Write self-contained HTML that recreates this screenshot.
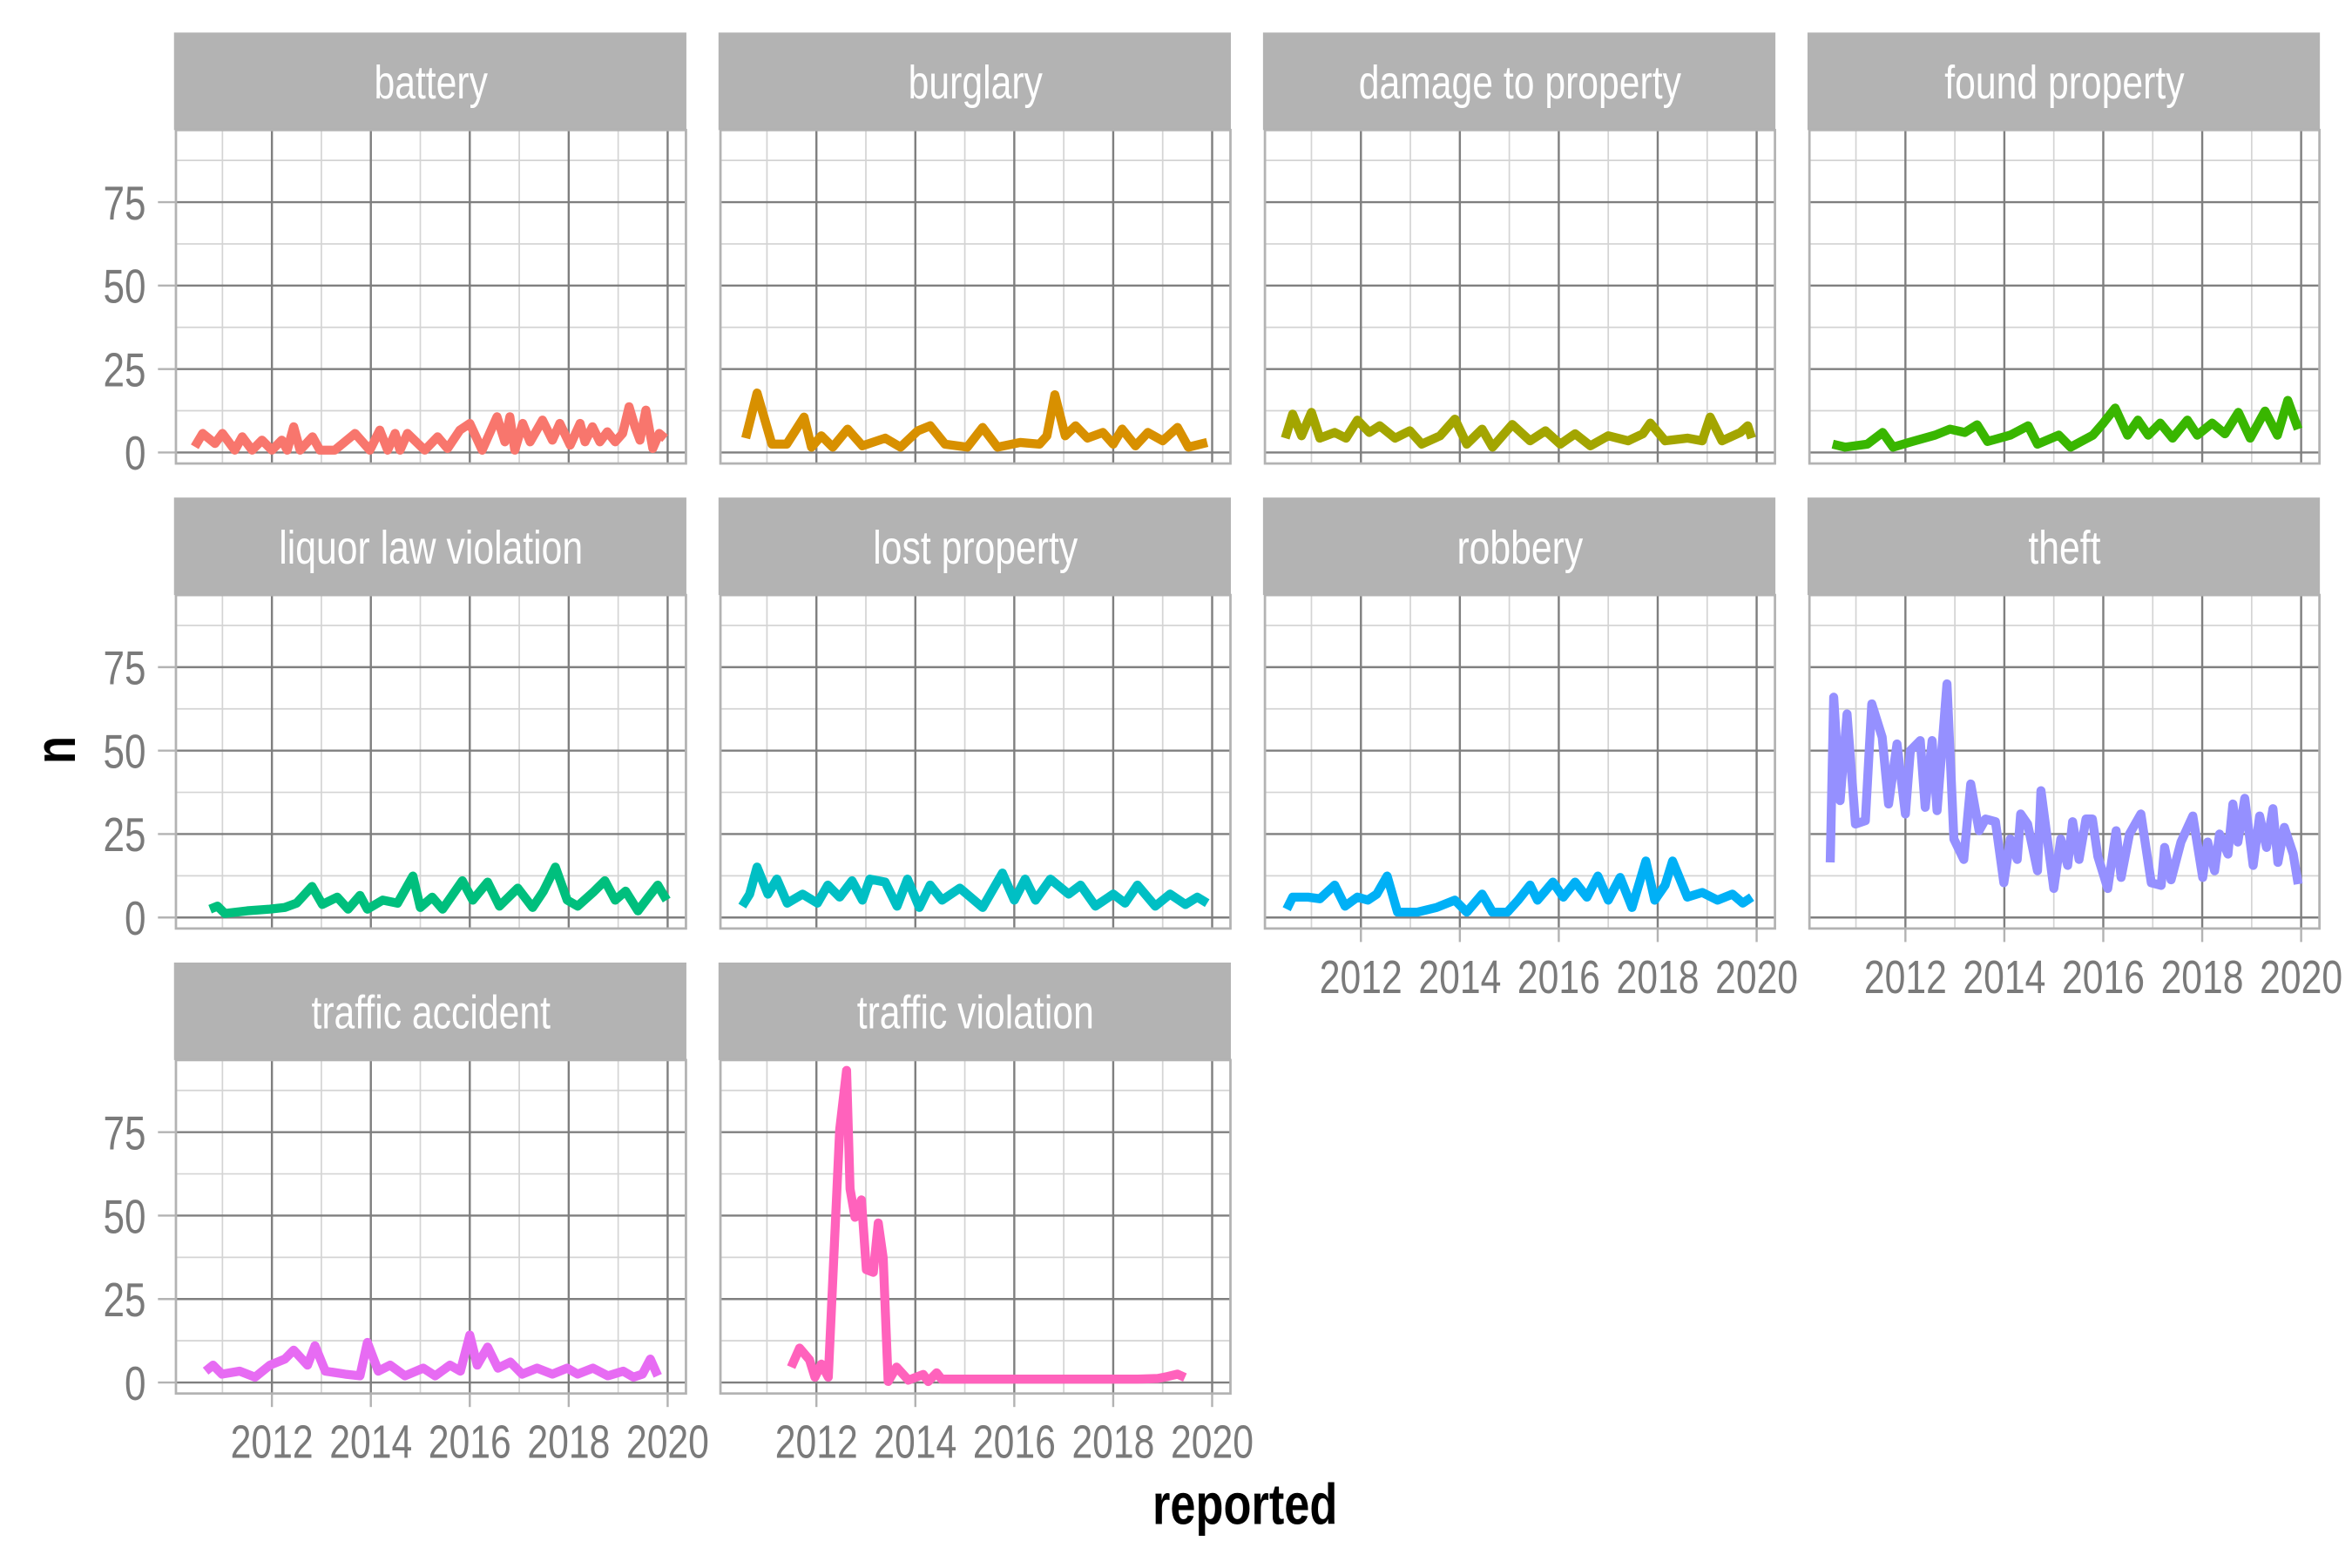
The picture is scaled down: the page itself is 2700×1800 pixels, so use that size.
<!DOCTYPE html>
<html><head><meta charset="utf-8"><style>html,body{margin:0;padding:0;background:#fff}svg{display:block}</style></head>
<body>
<svg id="chart" width="2700" height="1800" viewBox="0 0 1568 1045.33" xmlns="http://www.w3.org/2000/svg" font-family="'Liberation Sans', sans-serif"></svg>
<script>
const categories = ["battery","burglary","damage to property","found property","liquor law violation","lost property","robbery","theft","traffic accident","traffic violation"];
const seriesColors = ["#F8766D","#D89000","#A3A500","#39B600","#00BF7D","#00BFC4","#00B0F6","#9590FF","#E76BF3","#FF62BC"];
const yTicks = [0,25,50,75];
const xTickLabels = [2012,2014,2016,2018,2020];
const batteryX = [2010.44,2010.6,2010.85,2011.0,2011.25,2011.4,2011.6,2011.8,2012.0,2012.2,2012.31,2012.44,2012.57,2012.82,2012.97,2013.27,2013.68,2013.98,2014.18,2014.34,2014.49,2014.59,2014.74,2015.09,2015.35,2015.55,2015.8,2016.0,2016.25,2016.55,2016.71,2016.81,2016.91,2017.07,2017.22,2017.47,2017.67,2017.82,2018.03,2018.23,2018.33,2018.48,2018.63,2018.78,2018.94,2019.09,2019.22,2019.34,2019.44,2019.56,2019.7,2019.83,2019.95];
const batteryN = [1.7,5.7,2.7,5.7,0.7,4.7,0.7,3.7,0.7,3.7,0.7,7.7,0.7,4.7,0.7,0.7,5.7,0.7,6.7,0.7,5.7,0.7,5.7,0.7,4.7,1.2,6.7,8.7,0.7,10.7,3.2,10.7,0.7,8.7,3.2,9.7,3.7,8.7,2.2,8.7,3.2,7.7,3.2,6.2,3.2,5.7,13.7,7.7,3.7,12.7,1.2,5.7,4.2];
const burglaryX = [2010.57,2010.8,2011.1,2011.4,2011.75,2011.9,2012.1,2012.33,2012.63,2012.93,2013.39,2013.7,2014.05,2014.3,2014.6,2015.05,2015.36,2015.66,2016.12,2016.51,2016.66,2016.82,2017.03,2017.24,2017.48,2017.79,2018.0,2018.18,2018.45,2018.7,2019.0,2019.3,2019.52,2019.9];
const burglaryN = [4.3,17.8,2.5,2.5,10.6,1.6,5,1.6,7,2,4.3,1.6,6.5,8,2.5,1.6,7.5,1.6,3,2.5,5,17.3,5,8,4.3,6,2.5,7,2,6,3.5,7.5,1.6,3];
const damageX = [2010.47,2010.62,2010.8,2011.0,2011.17,2011.47,2011.7,2011.93,2012.17,2012.38,2012.69,2012.99,2013.23,2013.6,2013.9,2014.14,2014.45,2014.66,2015.06,2015.42,2015.73,2016.03,2016.33,2016.64,2017.0,2017.4,2017.7,2017.85,2018.15,2018.6,2018.9,2019.06,2019.3,2019.67,2019.82,2019.9];
const damageN = [4.3,11.5,5,12,4.3,6,4.3,9.7,6,8,4.3,6.5,2.5,5,10,2.5,7,1.6,8.4,3.5,6.5,2.5,5.6,2,5,3.5,5.6,8.8,3.5,4.3,3.5,10.6,3.5,6,8,4.3];
const foundX = [2010.53,2010.78,2011.23,2011.54,2011.75,2012.14,2012.6,2012.9,2013.2,2013.45,2013.66,2014.12,2014.48,2014.67,2015.1,2015.34,2015.79,2016.0,2016.24,2016.49,2016.7,2016.91,2017.15,2017.4,2017.7,2017.9,2018.2,2018.46,2018.73,2018.97,2019.27,2019.52,2019.73,2019.94];
const foundN = [2.5,1.6,2.5,6,1.6,3.3,5.2,7,6,8.3,3.3,5.2,8,2.5,5.2,1.6,5.2,8.8,13.3,5.2,9.7,5.2,8.8,4.3,9.7,5.2,8.8,5.6,12,4.3,12.4,5.2,15.6,7];
const liquorX = [2010.75,2010.9,2011.05,2011.5,2011.96,2012.26,2012.5,2012.81,2013.02,2013.32,2013.54,2013.78,2013.93,2014.24,2014.54,2014.85,2015.0,2015.24,2015.45,2015.85,2016.06,2016.36,2016.6,2016.97,2017.27,2017.49,2017.73,2017.97,2018.18,2018.49,2018.73,2018.94,2019.15,2019.4,2019.61,2019.8,2019.98];
const liquorN = [2.5,3.4,1.2,2,2.5,3,4.3,9.3,3.9,6.1,2.5,6.6,2.5,5.2,4.3,12.4,3,6.1,2.5,11,5.2,10.6,3.4,8.8,3,7.9,15.1,5.2,3.4,7.5,11,5.2,7.9,2,6.1,9.7,5.2];
const lostX = [2010.5,2010.65,2010.8,2011.02,2011.2,2011.41,2011.72,2012.02,2012.23,2012.47,2012.72,2012.93,2013.08,2013.39,2013.63,2013.84,2014.08,2014.3,2014.54,2014.9,2015.36,2015.76,2016.0,2016.22,2016.43,2016.73,2017.1,2017.34,2017.64,2018.0,2018.24,2018.49,2018.85,2019.15,2019.46,2019.7,2019.9];
const lostN = [3.4,7,15.1,7,11.5,4.3,7,4.3,9.7,6.1,11,5.2,11.5,10.6,3.4,11.5,3,9.7,5.2,8.8,3,13.3,5.2,11.5,5.2,11.5,7,9.7,3.4,7,4.3,9.7,3.4,7,3.9,6.1,4.3];
const robberyX = [2010.5,2010.62,2010.93,2011.17,2011.47,2011.68,2011.93,2012.14,2012.32,2012.53,2012.74,2013.14,2013.53,2013.9,2014.14,2014.45,2014.66,2014.96,2015.18,2015.42,2015.57,2015.88,2016.09,2016.33,2016.57,2016.79,2017.0,2017.24,2017.48,2017.76,2017.94,2018.15,2018.3,2018.6,2018.9,2019.21,2019.51,2019.72,2019.9];
const robberyN = [2.5,6.1,6.1,5.6,9.7,3.4,6.1,5.2,7,12.4,1.6,1.6,3,5.2,1.6,7,1.6,1.6,5.2,9.7,5.2,10.6,6.1,10.6,6.1,12.4,5.2,12,3,16.9,5.2,9.7,16.9,6.1,7.5,5.2,7,4.3,6.1];
const theftX = [2010.48,2010.55,2010.68,2010.82,2010.99,2011.19,2011.32,2011.53,2011.66,2011.83,2012.0,2012.1,2012.3,2012.4,2012.54,2012.64,2012.84,2012.98,2013.18,2013.32,2013.49,2013.62,2013.82,2013.99,2014.12,2014.26,2014.33,2014.47,2014.67,2014.74,2015.0,2015.14,2015.28,2015.38,2015.51,2015.65,2015.78,2015.89,2016.09,2016.26,2016.36,2016.53,2016.76,2016.97,2017.17,2017.24,2017.37,2017.57,2017.81,2018.01,2018.11,2018.25,2018.35,2018.52,2018.62,2018.72,2018.86,2019.03,2019.16,2019.3,2019.43,2019.53,2019.66,2019.84,2019.94];
const theftN = [16.5,66,35,61,28,29,64,54,34,52,31,50,53,33,53,32,70,23.5,17.4,40,26,29.5,28.7,10.4,23.5,17.4,31,28,14,38,8.7,23.5,15.6,28.7,17.4,29.5,29.5,18.3,8.7,26,12,25,31,10.4,9.6,21,11.3,22.6,30.4,12,22.6,14,25,19,34,22.6,35.7,15.6,30.4,21,32.6,16.5,27,19,10];
const accidentX = [2010.66,2010.81,2010.99,2011.35,2011.66,2011.96,2012.26,2012.44,2012.72,2012.87,2013.08,2013.48,2013.78,2013.93,2014.15,2014.39,2014.69,2015.06,2015.3,2015.6,2015.81,2016.0,2016.15,2016.36,2016.57,2016.82,2017.06,2017.36,2017.67,2017.97,2018.18,2018.49,2018.79,2019.1,2019.31,2019.49,2019.65,2019.8];
const accidentN = [3.4,5.2,2.5,3.4,1.6,5.2,7,9.7,5.2,11,3.4,2.5,2,12,3.4,5.2,2,4.3,2,5.2,3.4,14.2,5.2,10.6,4.3,6.1,2.5,4.3,2.5,4.3,2.5,4.3,2,3.4,1.6,2.5,7,2];
const violationX = [2011.49,2011.66,2011.86,2011.97,2012.1,2012.24,2012.47,2012.61,2012.68,2012.78,2012.91,2013.01,2013.15,2013.25,2013.35,2013.45,2013.62,2013.86,2014.16,2014.26,2014.43,2014.53,2015.5,2016.5,2017.5,2018.5,2018.9,2019.1,2019.3,2019.45];
const violationN = [4.6,10.3,6.8,1.6,5.5,1.6,75.7,93.5,58,49.5,54.7,33.8,33,47.8,37.3,0.3,4.6,0.7,2.4,0.3,2.9,1,1,1,1,1,1.2,1.8,2.5,1.5];
const seriesX = [batteryX,burglaryX,damageX,foundX,liquorX,lostX,robberyX,theftX,accidentX,violationX];
const seriesN = [batteryN,burglaryN,damageN,foundN,liquorN,lostN,robberyN,theftN,accidentN,violationN];

const NS = "http://www.w3.org/2000/svg";
const svg = document.getElementById('chart');
function mk(tag, attrs, parent){ const e=document.createElementNS(NS,tag); for(const k in attrs) e.setAttribute(k,attrs[k]); (parent||svg).appendChild(e); return e; }
const X0=2010.06, X1=2020.37, Y0=-3.3, Y1=96.6, PW=340, PH=222.3;
function panelLeft(c){ return 117.3 + c*363; }
function panelTop(r){ return 86.7 + r*310; }
function xs(c,yr){ return panelLeft(c) + (yr-X0)/(X1-X0)*PW; }
function ys(r,v){ return panelTop(r) + (Y1-v)/(Y1-Y0)*PH; }

categories.forEach((cat,i)=>{
  const r=Math.floor(i/4), c=i%4;
  const L=panelLeft(c), T=panelTop(r);
  const g=mk('g',{});
  
  
  const strip=mk('rect',{x:L-1.3,y:T-65,width:PW+1.6,height:65,fill:'#b3b3b3'},g);
  
  
  const st=mk('text',{x:0,y:0,fill:'#fff','font-size':31,'text-anchor':'middle',transform:`translate(${L+PW/2},${T-21}) scale(0.8,1)`},g);
  st.textContent=cat;
  
  
  for(let v=-12.5; v<=100; v+=25){ const y=ys(r,v); if(y>T&&y<T+PH) mk('line',{x1:L,x2:L+PW,y1:y,y2:y,stroke:'#d4d4d4','stroke-width':1},g); }
  for(let yr=2011; yr<=2021; yr+=2){ const x=xs(c,yr); if(x>L&&x<L+PW) mk('line',{x1:x,x2:x,y1:T,y2:T+PH,stroke:'#d4d4d4','stroke-width':1},g); }
  yTicks.forEach(v=>{ const y=ys(r,v); mk('line',{x1:L,x2:L+PW,y1:y,y2:y,stroke:'#7f7f7f','stroke-width':1.4},g); });
  xTickLabels.forEach(yr=>{ const x=xs(c,yr); mk('line',{x1:x,x2:x,y1:T,y2:T+PH,stroke:'#7f7f7f','stroke-width':1.4},g); });
  const border=mk('rect',{x:L,y:T,width:PW,height:PH,fill:'none',stroke:'#b3b3b3','stroke-width':1.6},g);
  
  
  if(c===0){
    yTicks.forEach(v=>{ const y=ys(r,v);
      mk('line',{x1:L-12,x2:L,y1:y,y2:y,stroke:'#b3b3b3','stroke-width':1.4},g);
      const t=mk('text',{x:0,y:0,fill:'#7a7a7a','font-size':32,'text-anchor':'end',transform:`translate(${L-20},${y+11.5}) scale(0.8,1)`},g);
      t.textContent=String(v);
      
      
    });
  }
  const showX = (r===2) || (r===1 && c>=2);
  if(showX){
    xTickLabels.forEach(yr=>{ const x=xs(c,yr);
      mk('line',{x1:x,x2:x,y1:T+PH,y2:T+PH+9,stroke:'#b3b3b3','stroke-width':1.4},g);
      const t=mk('text',{x:0,y:0,fill:'#7a7a7a','font-size':31,'text-anchor':'middle',transform:`translate(${x},${T+PH+43}) scale(0.8,1)`},g);
      t.textContent=String(yr);
      
      
    });
  }
  const xa=seriesX[i], na=seriesN[i];
  const d=xa.map((yr,k)=>(k?'L':'M')+xs(c,yr).toFixed(2)+','+ys(r,na[k]).toFixed(2)).join(' ');
  const p=mk('path',{d:d,fill:'none',stroke:seriesColors[i],'stroke-width':6,'stroke-linejoin':'round','stroke-linecap':'butt'},g);
  
  
});
const xt=mk('text',{x:0,y:0,fill:'#000','font-size':38,'font-weight':'bold','text-anchor':'middle',transform:'translate(830,1016) scale(0.8,1)'});
xt.textContent='reported';


const yt=mk('text',{x:0,y:0,fill:'#000','font-size':38,'font-weight':'bold','text-anchor':'middle',transform:'translate(50,500) rotate(-90) scale(0.8,1)'});
yt.textContent='n';


</script>
</body></html>
